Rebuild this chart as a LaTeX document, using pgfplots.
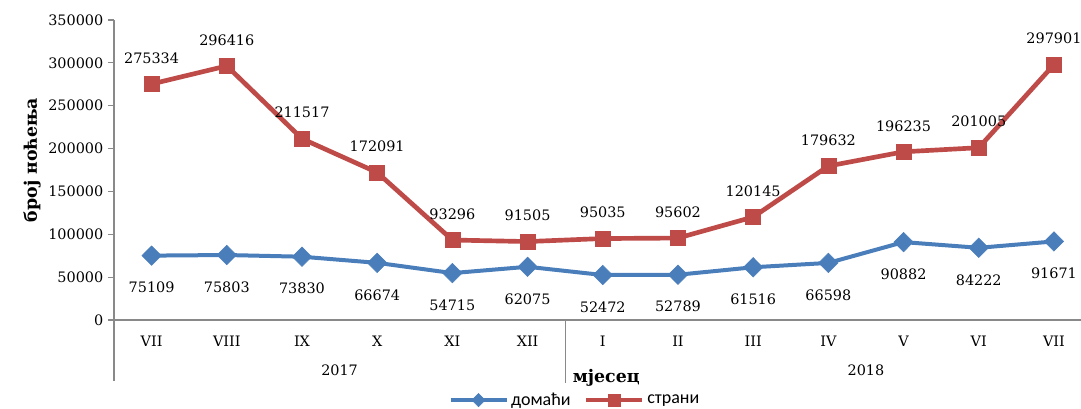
\documentclass[border=0pt]{standalone}
\usepackage{fontspec}
\setmainfont{DejaVu Serif}
\newfontfamily\legfont{Carlito}
\usepackage{pgfplots}
\pgfplotsset{compat=1.18}
\usepackage{pgfplotstable}

\definecolor{dombl}{HTML}{4A7EBB}
\definecolor{strrd}{HTML}{BE4B48}
\definecolor{axgr}{HTML}{898989}

\pgfplotstableread{
x y label
0 75109 75109
1 75803 75803
2 73830 73830
3 66674 66674
4 54715 54715
5 62075 62075
6 52472 52472
7 52789 52789
8 61516 61516
9 66598 66598
10 90882 90882
11 84222 84222
12 91671 91671
}\domaci

\pgfplotstableread{
x y label
0 275334 275334
1 296416 296416
2 211517 211517
3 172091 172091
4 93296 93296
5 91505 91505
6 95035 95035
7 95602 95602
8 120145 120145
9 179632 179632
10 196235 196235
11 201005 201005
12 297901 297901
}\strani

\begin{document}
\begin{tikzpicture}
\begin{axis}[
  at={(0,0)}, anchor=south west,
  scale only axis,
  width=725.25pt, height=225pt,
  xmin=-0.5, xmax=12.36,
  ymin=0, ymax=350000,
  ytick={0,50000,...,350000},
  xtick={0,...,12},
  xticklabels={VII,VIII,IX,X,XI,XII,I,II,III,IV,V,VI,VII},
  axis x line*=bottom, axis y line*=left,
  axis line style={axgr, line width=0.9pt, -},
  tick align=outside,
  ytick style={axgr, line width=0.9pt},
  major tick length=4.5pt,
  xtick style={draw=none},
  font=\fontsize{10.8}{12}\selectfont,
  /pgf/number format/assume math mode=true,
  /pgf/number format/fixed,
  /pgf/number format/1000 sep={},
  scaled y ticks=false,
  xticklabel style={yshift=-4pt},
  ylabel={\fontsize{13}{15}\selectfont\bfseries број ноћења},
  ylabel style={at={(axis description cs:-0.0848,0.533)}, anchor=center},
  xlabel={\fontsize{13}{15}\selectfont\bfseries мјесец},
  xlabel style={at={(axis description cs:0.509,0)}, anchor=center, yshift=-43.5pt},
  clip=false,
  legend columns=2,
  legend style={at={(axis description cs:0.477,-0.267)}, anchor=center,
    draw=none, fill=none, font=\legfont\fontsize{13.5}{15}\selectfont,
    /tikz/every even column/.append style={column sep=8pt}},
  legend image code/.code={\draw[mark repeat=2,mark phase=2,#1]
    plot coordinates {(0pt,0pt) (21pt,0pt) (42pt,0pt)};},
  point meta=explicit symbolic,
]
\addplot[forget plot, color=dombl, line width=3pt, mark=diamond*, mark size=7.3pt,
  mark options={xscale=1.33, solid, line width=0.4pt},
  nodes near coords, every node near coord/.append style={anchor=center, yshift=-24pt, text=black}]
  table[x=x, y=y, meta=label] {\domaci};
\addplot[forget plot, color=strrd, line width=3.5pt, mark=square*, mark size=5.6pt,
  mark options={solid, line width=0.4pt},
  nodes near coords, every node near coord/.append style={anchor=center, yshift=19.5pt, text=black}]
  table[x=x, y=y, meta=label] {\strani};
\addlegendimage{color=dombl, line width=3pt, mark=diamond*, mark size=5pt, mark options={xscale=1.33, solid, line width=0.4pt}}
\addlegendentry{домаћи}
\addlegendimage{color=strrd, line width=3.5pt, mark=square*, mark size=4.5pt, mark options={solid, line width=0.4pt}}
\addlegendentry{страни}

\draw[axgr, line width=0.9pt] (rel axis cs:0,0) -- ([yshift=-46pt]rel axis cs:0,0);
\draw[axgr, line width=0.9pt] (axis cs:5.5,0) -- ([yshift=-47pt]axis cs:5.5,0);
\node at ([yshift=-37.5pt]axis cs:2.5,0) {2017};
\node at ([yshift=-37.5pt]axis cs:9.5,0) {2018};
\end{axis}
\pgfresetboundingbox
\path (-85.5pt,-66.75pt) rectangle (725.25pt,240pt);
\end{tikzpicture}
\end{document}
